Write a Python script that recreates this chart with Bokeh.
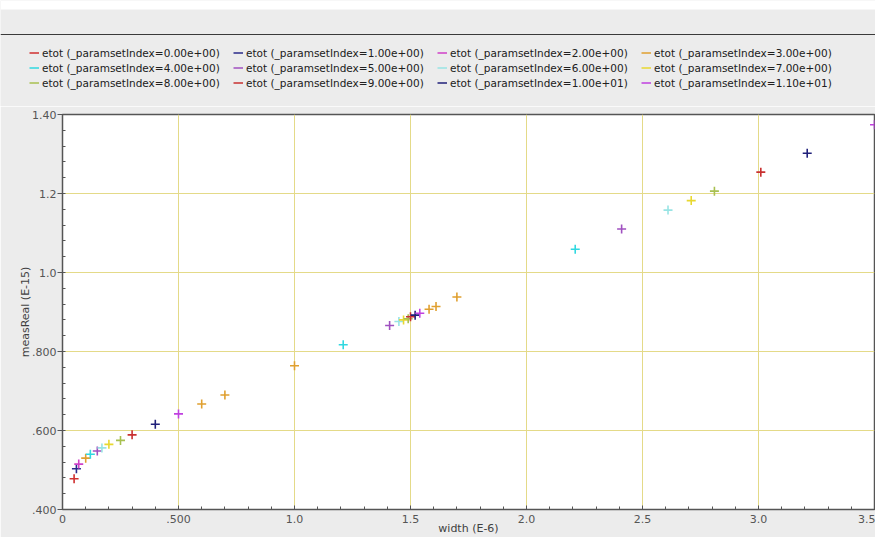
import numpy as np
from bokeh.plotting import figure
from bokeh.layouts import column
from bokeh.models import FixedTicker, Legend, LegendItem, Range1d, Span, BoxAnnotation
from bokeh.embed import file_html
from bokeh.resources import INLINE

# ---- data (width in E-6, measReal in E-15) ----
param_index = ["0.00e+00", "1.00e+00", "2.00e+00", "3.00e+00", "4.00e+00", "5.00e+00",
               "6.00e+00", "7.00e+00", "8.00e+00", "9.00e+00", "1.00e+01", "1.10e+01"]
widths = [
    [0.05],
    [0.06],
    [0.07],
    [0.10, 0.60, 0.70, 1.00, 1.58, 1.61, 1.70],
    [0.12, 1.21, 2.21],
    [0.15, 1.41, 2.41],
    [0.17, 1.45, 2.61],
    [0.20, 1.47, 2.71],
    [0.25, 1.49, 2.81],
    [0.30, 1.50, 3.01],
    [0.40, 1.52, 3.21],
    [0.50, 1.54, 3.50],
]
meas = [
    [0.478],
    [0.503],
    [0.515],
    [0.530, 0.667, 0.690, 0.764, 0.907, 0.914, 0.938],
    [0.540, 0.817, 1.059],
    [0.548, 0.866, 1.110],
    [0.556, 0.876, 1.158],
    [0.565, 0.880, 1.182],
    [0.575, 0.883, 1.206],
    [0.589, 0.888, 1.254],
    [0.616, 0.892, 1.302],
    [0.642, 0.897, 1.374],
]
colors = ["#d03030", "#2a2a8a", "#d040c8", "#e0a030", "#30d8e0", "#a050c0",
          "#98e4e4", "#e8d830", "#a8c050", "#c83030", "#20207a", "#c040e0"]

x_ticks = [0, 0.5, 1.0, 1.5, 2.0, 2.5, 3.0, 3.5]
x_labels = ["0", ".500", "1.0", "1.5", "2.0", "2.5", "3.0", "3.5"]
y_ticks = [0.4, 0.6, 0.8, 1.0, 1.2, 1.4]
y_labels = [".400", ".600", ".800", "1.0", "1.2", "1.40"]

FONT = "DejaVu Sans"
BG = "#ececec"

# ---- legend strip (top), ranges in screen pixels ----
leg_fig = figure(width=875, height=106, output_backend="svg", toolbar_location=None,
                 x_range=Range1d(0, 875), y_range=Range1d(106, 0),
                 x_axis_location=None, y_axis_location=None,
                 min_border=0, background_fill_color=BG, border_fill_color=BG)
leg_fig.frame_align = False
leg_fig.grid.visible = False
leg_fig.outline_line_color = None
leg_fig.add_layout(BoxAnnotation(top=0, bottom=9, fill_color="white", fill_alpha=1,
                                 line_color=None))
leg_fig.add_layout(Span(location=34, dimension="width", line_color="#3a3a3a", line_width=1))

# ---- main plot ----
p = figure(width=875, height=431, output_backend="svg", toolbar_location=None,
           x_range=(0, 3.5), y_range=(0.4, 1.4),
           min_border_left=62, min_border_right=1, min_border_top=8, min_border_bottom=27,
           background_fill_color="white", border_fill_color=BG)
p.frame_align = False
p.outline_line_color = "#555555"
p.outline_line_width = 1.5

legend_lines = []
for i in range(len(param_index)):
    ln = leg_fig.line(widths[i], meas[i], line_color=colors[i], line_width=1.5, visible=False)
    p.scatter(widths[i], meas[i], marker="cross", size=9, line_color=colors[i], line_width=1.6)
    legend_lines.append(ln)

# legend is filled column by column; order items so it reads row by row (4 per row)
ncols, nrows = 4, 3
order = [r * ncols + c for c in range(ncols) for r in range(nrows)]
items = [LegendItem(label="etot (_paramsetIndex=%s)" % param_index[i], renderers=[legend_lines[i]])
         for i in order]

legend = Legend(items=items, ncols=ncols, location=(29, 17),
                glyph_width=10, glyph_height=13, label_height=13, label_width=189,
                label_standoff=3, spacing=2, padding=0, margin=0,
                background_fill_alpha=0, border_line_alpha=0,
                label_text_font=FONT, label_text_font_size="10.5px", label_text_color="#202020")
leg_fig.add_layout(legend, "center")

# grid
for g in (p.xgrid, p.ygrid):
    g.grid_line_color = "#e4da88"
    g.grid_line_width = 1
p.xgrid.ticker = FixedTicker(ticks=x_ticks)
p.ygrid.ticker = FixedTicker(ticks=y_ticks)

# axes
p.xaxis.ticker = FixedTicker(ticks=x_ticks, minor_ticks=list(np.round(np.arange(0, 3.51, 0.1), 2)))
p.yaxis.ticker = FixedTicker(ticks=y_ticks, minor_ticks=list(np.round(np.arange(0.4, 1.401, 0.04), 2)))
p.xaxis.major_label_overrides = dict(zip(x_ticks, x_labels))
p.yaxis.major_label_overrides = dict(zip(y_ticks, y_labels))
p.xaxis.axis_label = "width (E-6)"
p.yaxis.axis_label = "measReal (E-15)"

for ax in (p.xaxis[0], p.yaxis[0]):
    ax.axis_line_color = "#555555"
    ax.major_tick_line_color = "#555555"
    ax.minor_tick_line_color = "#555555"
    ax.major_label_text_font = FONT
    ax.major_label_text_font_size = "11px"
    ax.major_label_text_color = "#555555"
    ax.axis_label_text_font = FONT
    ax.axis_label_text_font_size = "11px"
    ax.axis_label_text_font_style = "normal"
    ax.axis_label_text_color = "#404040"

p.xaxis.major_tick_in = 4
p.xaxis.major_tick_out = 0
p.xaxis.minor_tick_in = 3
p.xaxis.minor_tick_out = 0
p.xaxis.major_label_standoff = 5
p.xaxis.axis_label_standoff = -4

p.yaxis.major_tick_in = 0
p.yaxis.major_tick_out = 5
p.yaxis.minor_tick_in = 3
p.yaxis.minor_tick_out = 0
p.yaxis.major_label_standoff = 1
p.yaxis.axis_label_standoff = -3

layout = column(leg_fig, p, spacing=0)
open("out.html", "w").write(file_html(layout, INLINE))
